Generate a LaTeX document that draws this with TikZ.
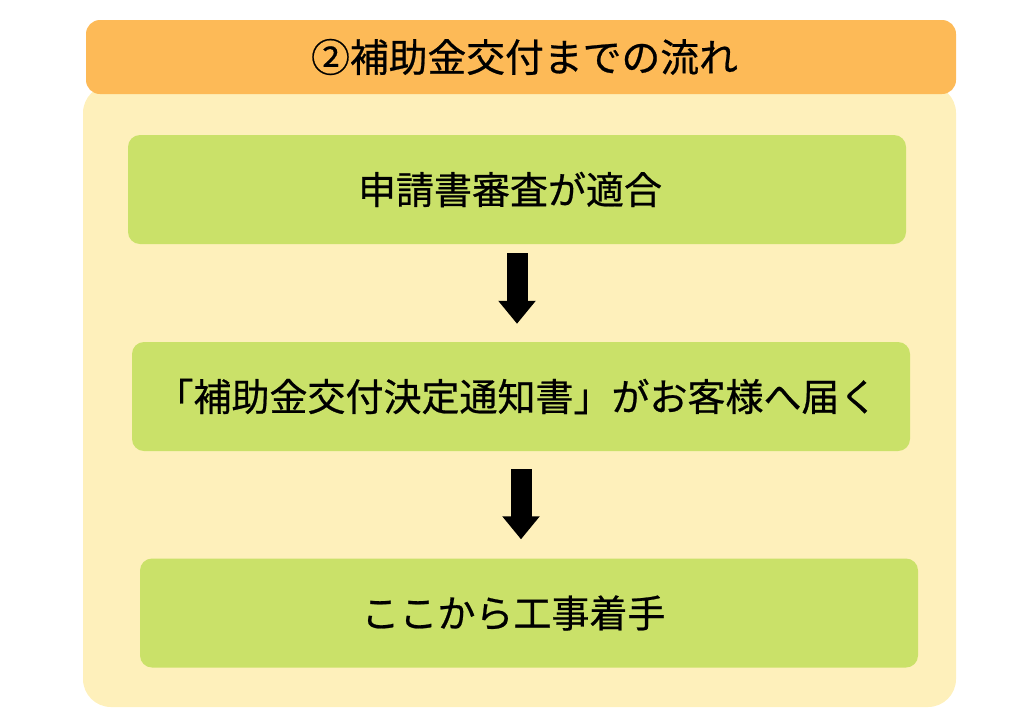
\documentclass[tikz,border=0pt]{standalone}
\usepackage{fontspec}
\usepackage{tikz}
\usetikzlibrary{arrows.meta, positioning}
\setmainfont{Noto Sans CJK JP}[FakeBold=0.6]
\definecolor{titleorange}{HTML}{FDBA57}
\definecolor{panelyellow}{HTML}{FEF0BB}
\definecolor{stepgreen}{HTML}{CAE169}

\begin{document}
\begin{tikzpicture}[
  x=1pt, y=-1pt,
  panelstyle/.style={fill=panelyellow, draw=none, rounded corners=28pt},
  titlestyle/.style={fill=titleorange, draw=none, rounded corners=14pt, minimum width=870pt, minimum height=74pt, inner sep=0pt},
  stepbox/.style={fill=stepgreen, draw=none, rounded corners=12pt, minimum width=778pt, minimum height=109pt, inner sep=0pt},
  steptext/.style={text=black, font=\fontsize{38}{42}\selectfont, inner sep=0pt},
  bigarrow/.style={-{Triangle[width=36pt, length=23pt]}, draw=black, line width=21pt}
]
  \useasboundingbox (0,0) rectangle (1024,726);
  \fill[panelstyle] (83,85) rectangle (956,707);
  \node[titlestyle] (title) at (521,57) {};
  \node[steptext, font=\fontsize{38.8}{42}\selectfont] (titletext) at (524.5,57) {②補助金交付までの流れ};

  \node[stepbox] (s1) at (517,189.5) {};
  \node[stepbox] (s2) at (521,396.5) {};
  \node[stepbox] (s3) at (529,613) {};
  \node[steptext] (t1) at ([xshift=-7pt]s1.center) {申請書審査が適合};
  \node[steptext] (t2) at ([xshift=-4.5pt]s2.center) {「補助金交付決定通知書」がお客様へ届く};
  \node[steptext] (t3) at ([xshift=-15.5pt]s3.center) {ここから工事着手};

  \draw[bigarrow, shorten <=9pt, shorten >=18pt] (s1.south) -- (s1.south |- s2.north);
  \draw[bigarrow, shorten <=18pt, shorten >=19pt] (s2.south) -- (s2.south |- s3.north);
\end{tikzpicture}
\end{document}
